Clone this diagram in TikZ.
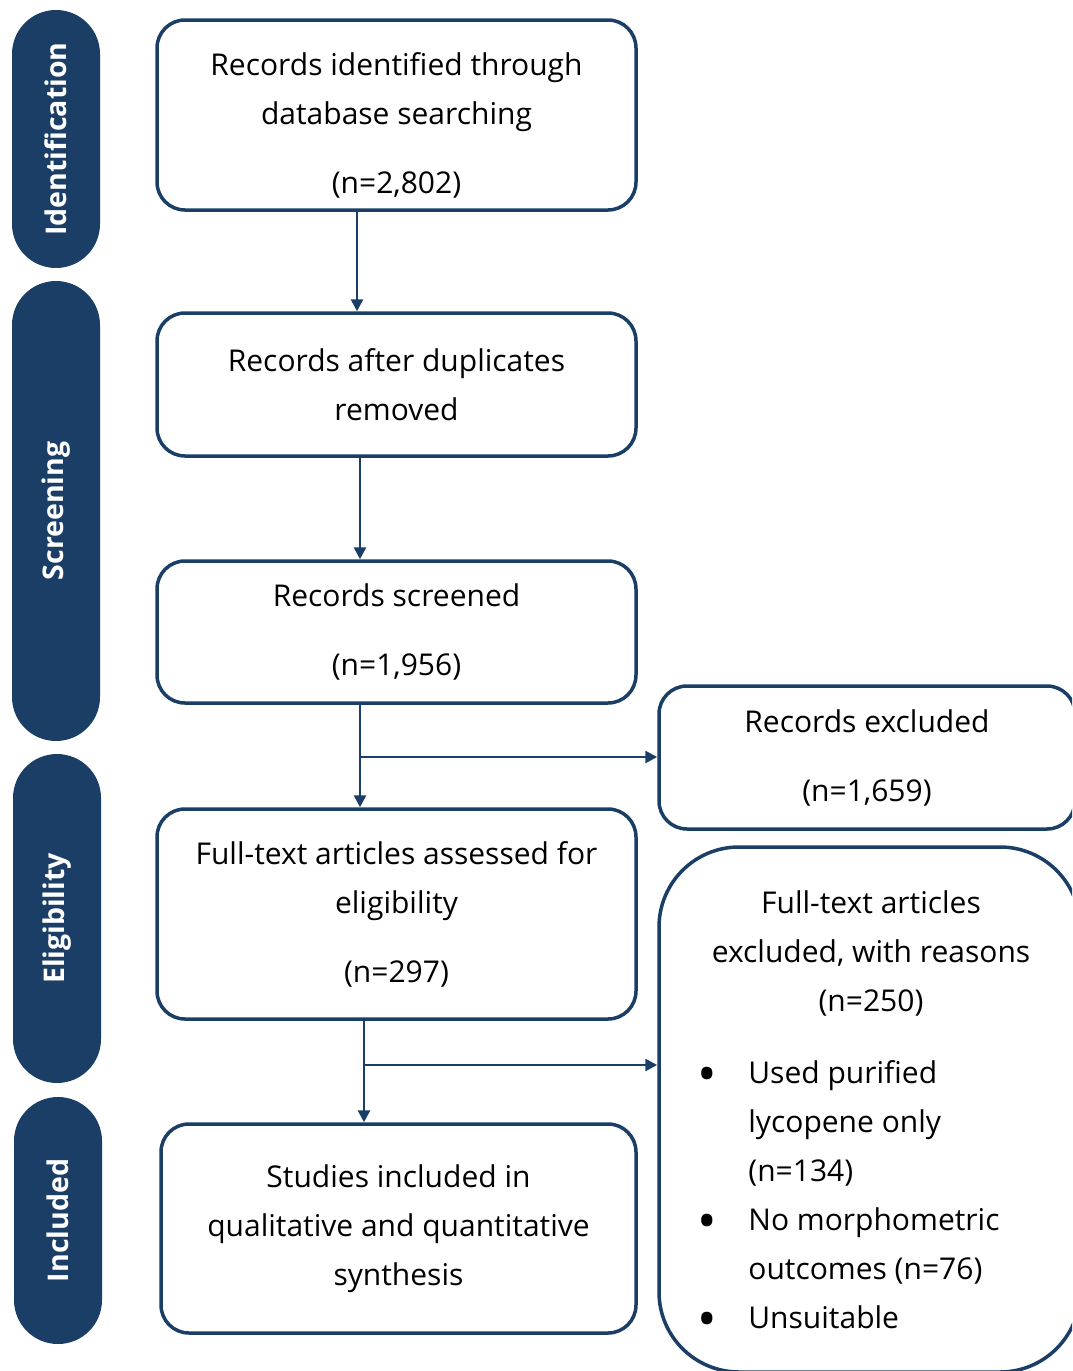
\documentclass[tikz,border=0pt]{standalone}
\usepackage{fontspec}
\setmainfont{Open Sans}
\usetikzlibrary{positioning,shapes.misc,arrows.meta}
\definecolor{navy}{RGB}{26,62,102}
\newcommand\body{\fontsize{30}{49}\selectfont}
\newcommand\bul{\raisebox{-9pt}{\fontsize{52}{49}\selectfont\textbullet}}
\tikzset{every picture/.append style={line width=2.8pt}}

\begin{document}
\begin{tikzpicture}[x=1pt,y=-1pt]
      \tikzstyle{box}=[draw=navy,line width=3.5pt,rounded corners=28pt,align=center,inner sep=0pt,font=\body]
      \tikzstyle{txt}=[inner sep=0pt,font=\body]
      \tikzstyle{phase}=[rounded rectangle,fill=navy,text=white,rotate=90,inner sep=0pt,minimum height=88pt,font=\bfseries\fontsize{28.5}{30}\selectfont]
      \tikzstyle{arrow}=[draw=navy,-{Triangle[length=12pt,width=12pt]}]
      \clip (0,0) rectangle (1072,1371);
      % phases
      \node[phase,minimum width=258pt] at (56,139) (id) {Identification};
      \node[phase,minimum width=460pt] at (56,511) (scr) {Screening};
      \node[phase,minimum width=329pt] at (57,918.5) (elig) {Eligibility};
      \node[phase,minimum width=247pt] at (58,1220.5) (incl) {Included};
      % main column
      \node[box,minimum width=479pt,minimum height=190pt] at (396.5,115) (ident) {};
      \node[txt,align=center,below=33pt of ident.north] (identtxt) {Records identified through\\database searching\\[20pt](n=2,802)};
      \node[box,minimum width=479pt,minimum height=143pt] at (396.5,384.5) (dupl) {Records after duplicates\\removed};
      \node[box,minimum width=479pt,minimum height=142pt] at (396.5,632) (screen) {Records screened\\[20pt](n=1,956)};
      \node[box,minimum width=479pt,minimum height=210pt] at (396.5,914) (full) {Full-text articles assessed for\\eligibility\\[20pt](n=297)};
      \node[box,minimum width=475pt,minimum height=209pt] at (398.5,1228.5) (studies) {Studies included in\\qualitative and quantitative\\synthesis};
      % exclusions
      \node[box,minimum width=416pt,minimum height=143pt] at (867,757.5) (recex) {Records excluded\\[20pt](n=1,659)};
      \node[box,rounded corners=80pt,minimum width=421pt,minimum height=525pt] at (869.5,1109.5) (fullex) {};
      \node[txt,align=center,anchor=north] at (871,889) (reasons) {Full-text articles\\excluded, with reasons\\(n=250)};
      \node[txt,anchor=base west] at (696,1083) (list) {\begin{tabular}[t]{@{}p{51pt}@{}l@{}}
        \bul & Used purified\\
         & lycopene only\\
         & (n=134)\\
        \bul & No morphometric\\
         & outcomes (n=76)\\
        \bul & Unsuitable
      \end{tabular}};
      % connectors
      \coordinate (jC) at (360,757);
      \coordinate (jD) at (364,1065);
      \draw[arrow] ([xshift=-39.5pt]ident.south) -- ([xshift=-39.5pt]dupl.north);
      \draw[arrow] ([xshift=-36.5pt]dupl.south) -- ([xshift=-36.5pt]screen.north);
      \draw[arrow] ([xshift=-36.5pt]screen.south) -- ([xshift=-36.5pt]full.north);
      \draw[arrow] (jC) -- (jC -| recex.west);
      \draw[arrow] ([xshift=-32.5pt]full.south) -- ([xshift=-34.5pt]studies.north);
      \draw[arrow] (jD) -- (jD -| fullex.west);
    \end{tikzpicture}
\end{document}
